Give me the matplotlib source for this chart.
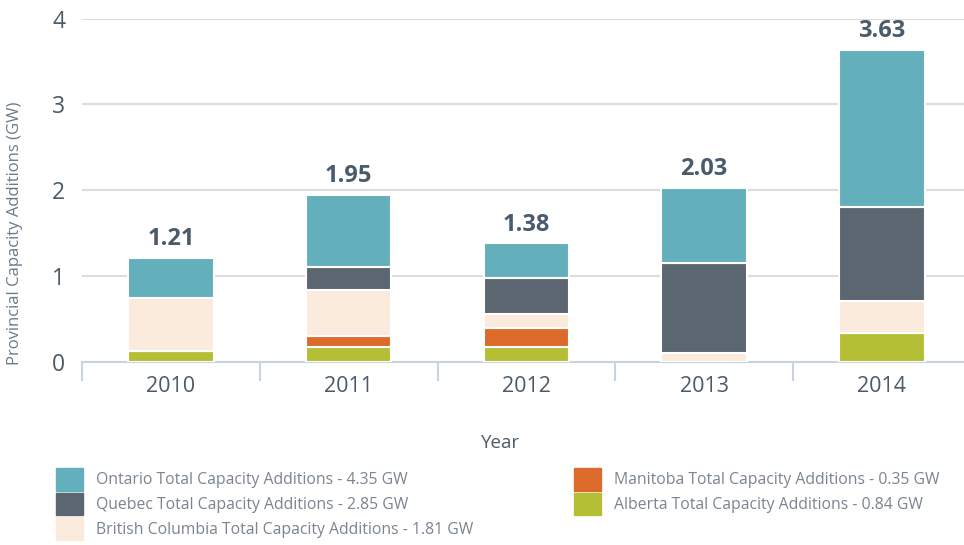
import numpy as np
import matplotlib.pyplot as plt
from matplotlib.patches import Patch

plt.rcParams['font.family'] = ['Open Sans', 'DejaVu Sans']

years = ['2010', '2011', '2012', '2013', '2014']
alberta = [0.13, 0.17, 0.17, 0.0, 0.34]
manitoba = [0.0, 0.13, 0.23, 0.0, 0.0]
british_columbia = [0.61, 0.54, 0.155, 0.11, 0.37]
quebec = [0.0, 0.27, 0.42, 1.04, 1.10]
ontario = [0.47, 0.84, 0.405, 0.88, 1.82]
totals = ['1.21', '1.95', '1.38', '2.03', '3.63']

legend_labels = ['Ontario Total Capacity Additions - 4.35 GW',
                 'Quebec Total Capacity Additions - 2.85 GW',
                 'British Columbia Total Capacity Additions - 1.81 GW',
                 'Manitoba Total Capacity Additions - 0.35 GW',
                 'Alberta Total Capacity Additions - 0.84 GW']

c_on = '#63afbc'
c_qc = '#5b6670'
c_bc = '#faebdc'
c_mb = '#dc6b2b'
c_ab = '#b5bf35'

fig = plt.figure(figsize=(9.64, 5.45), dpi=100)
ax = fig.add_axes([82 / 964, (545 - 362) / 545, (964 - 82) / 964, 343.5 / 545])

x = np.arange(len(years))
w = 0.48
bottom = np.zeros(len(years))
for vals, col in [(alberta, c_ab), (manitoba, c_mb), (british_columbia, c_bc),
                  (quebec, c_qc), (ontario, c_on)]:
    v = np.array(vals)
    ax.bar(x, v, w, bottom=bottom, color=col, edgecolor='white', linewidth=1.5, zorder=3)
    bottom += v

for xi, top, t in zip(x, bottom, totals):
    ax.text(xi, top + 0.08, t, ha='center', va='bottom', fontsize=17,
            fontweight='bold', color='#4a5b6b')

ax.set_xlim(-0.5, 4.462)
ax.set_ylim(0, 4)
ax.set_yticks([0, 1, 2, 3, 4])
ax.yaxis.grid(True, color='#dddddd', linewidth=1.5, zorder=0)
ax.set_axisbelow(True)
for s in ['top', 'right', 'left']:
    ax.spines[s].set_visible(False)
ax.spines['bottom'].set_color('#c8d3e0')
ax.spines['bottom'].set_linewidth(1.5)

ax.set_xticks(x)
ax.set_xticklabels(years)
ax.set_xticks(np.arange(-0.5, 4.5, 1), minor=True)
ax.tick_params(axis='x', which='major', length=0, pad=10, labelsize=15.5, labelcolor='#4a5a68')
ax.tick_params(axis='x', which='minor', length=14, width=1.5, color='#c8d3e0', direction='out')
ax.tick_params(axis='y', length=0, pad=12, labelsize=16.5, labelcolor='#4a5a68')

ax.set_ylabel('Provincial Capacity Additions (GW)', fontsize=12, color='#6b7a88')
ax.yaxis.set_label_coords(-59 / 882, 129 / 343.5)
ax.set_xlabel('Year', fontsize=13.5, color='#4a5a68')
ax.xaxis.set_label_coords((501 - 82) / 882, -72 / 343.5)

h1 = [Patch(color=c_on), Patch(color=c_qc), Patch(color=c_bc)]
h2 = [Patch(color=c_mb), Patch(color=c_ab)]
kw = dict(loc='upper left', frameon=False, fontsize=11.3, handlelength=1.75, handleheight=1.85,
          labelspacing=0.12, handletextpad=0.8, labelcolor='#7a8591', borderaxespad=0,
          borderpad=0)
leg1 = fig.legend(h1, legend_labels[:3], bbox_to_anchor=(56 / 964, 1 - 468 / 545), **kw)
leg2 = fig.legend(h2, legend_labels[3:], bbox_to_anchor=(574 / 964, 1 - 468 / 545), **kw)

fig.savefig('out.png', dpi=100)
